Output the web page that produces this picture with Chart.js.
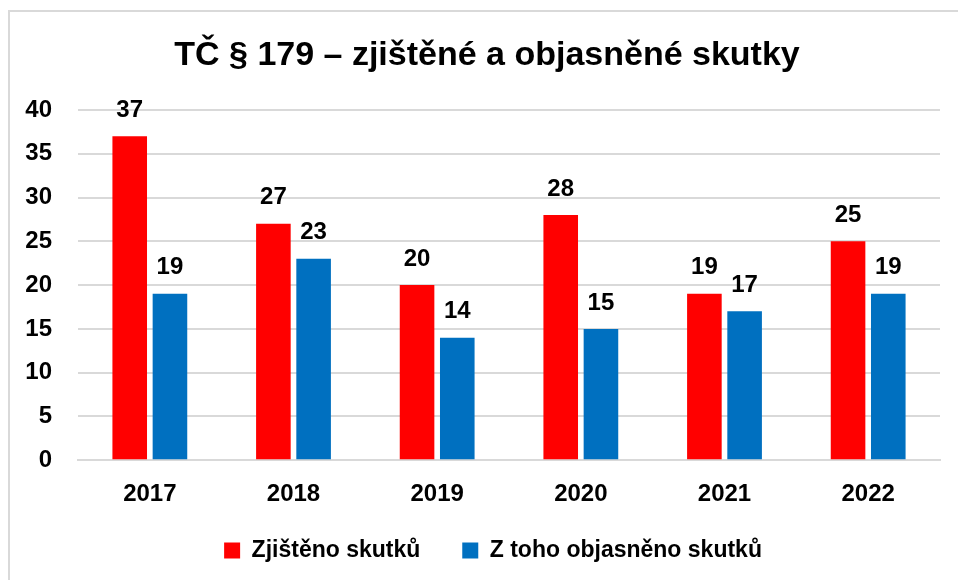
<!doctype html>
<html lang="cs">
  <head>
    <meta charset="utf-8">
    <title>TČ § 179</title>
    <style>
      * { margin: 0; padding: 0; }
      body { width: 958px; height: 580px; background: #fff; overflow: hidden; position: relative; }
      .frame {
        position: absolute; left: 8px; top: 10px; width: 1000px; height: 700px;
        border-left: 2px solid #d9d9d9; border-top: 2px solid #d9d9d9;
      }
      .chartBox { position: absolute; left: 0; top: 0; width: 958px; height: 580px; }
    </style>
  </head>
  <body>
    <div class="frame"></div>
    <div class="chartBox"><canvas id="myChart"></canvas></div>
    <script src="https://cdn.jsdelivr.net/npm/chart.js"></script>
    <script>
    // data
    const years = ['2017', '2018', '2019', '2020', '2021', '2022'];
    const zjisteno = [37, 27, 20, 28, 19, 25];
    const objasneno = [19, 23, 14, 15, 17, 19];
    const chartTitle = 'TČ § 179 – zjištěné a objasněné skutky';

    const FONT = "'Liberation Sans', Arial, sans-serif";

    // value labels above the bars + title (drawn by hand so it can sit off-centre like the original)
    const valueLabels = {
      id: 'valueLabels',
      afterDatasetsDraw(chart) {
        const ctx = chart.ctx;
        ctx.save();
        ctx.font = 'bold 24px ' + FONT;
        ctx.fillStyle = '#000';
        ctx.textAlign = 'center';
        ctx.textBaseline = 'bottom';
        chart.data.datasets.forEach((ds, i) => {
          chart.getDatasetMeta(i).data.forEach((bar, j) => {
            ctx.fillText(ds.data[j], bar.x, bar.y - 14);
          });
        });
        ctx.font = 'bold 34px ' + FONT;
        ctx.textBaseline = 'middle';
        ctx.fillText(chartTitle, 487, 56);
        ctx.restore();
      }
    };

    const data = {
      labels: years,
      datasets: [{
        label: 'Zjištěno skutků',
        data: zjisteno,
        backgroundColor: '#ff0000'
      }, {
        label: 'Z toho objasněno skutků',
        data: objasneno,
        backgroundColor: '#0070c0'
      }]
    };

    const config = {
      type: 'bar',
      data,
      plugins: [valueLabels],
      options: {
        responsive: false,
        animation: false,
        categoryPercentage: 0.56,
        barPercentage: 0.86,
        layout: { padding: { left: 10, right: 18, top: 110, bottom: 8 } },
        plugins: {
          title: { display: false },
          legend: {
            position: 'bottom',
            fullSize: false,
            labels: {
              color: '#000',
              font: { family: FONT, size: 23, weight: 'bold' },
              boxWidth: 16,
              boxHeight: 16,
              padding: 10,
              // wider gap between entries / nudge left, without making the legend taller
              generateLabels(chart) {
                const items = Chart.defaults.plugins.legend.labels.generateLabels(chart);
                items[0].text += '     ';
                items[1].text += '     ';
                return items;
              }
            }
          },
          tooltip: { enabled: false }
        },
        scales: {
          x: {
            grid: { display: false, drawTicks: false },
            border: { color: '#d9d9d9', width: 2 },
            ticks: { color: '#000', padding: 20, font: { family: FONT, size: 24, weight: 'bold' } }
          },
          y: {
            min: 0,
            max: 40,
            ticks: { stepSize: 5, color: '#000', padding: 26, font: { family: FONT, size: 24, weight: 'bold' } },
            grid: { color: '#d9d9d9', lineWidth: 2, drawTicks: false },
            border: { display: false },
            afterFit(scale) { scale.width = 68; }
          }
        }
      }
    };

    const canvas = document.getElementById('myChart');
    canvas.width = 958;
    canvas.height = 580;
    const myChart = new Chart(canvas, config);
    </script>
  </body>
</html>
